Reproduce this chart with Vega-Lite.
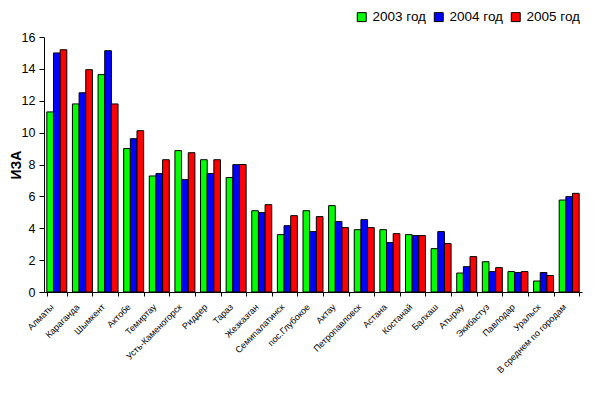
{
  "$schema": "https://vega.github.io/schema/vega-lite/v6.json",
  "width": 538,
  "height": 255,
  "autosize": {"type": "none"},
  "padding": {"left": 44, "top": 37, "right": 14, "bottom": 104},
  "background": "white",
  "config": {"view": {"stroke": null}, "font": "Liberation Sans"},
  "data": {"values": [
    {"city": "Алматы", "year": "2003 год", "v": 11.3},
    {"city": "Алматы", "year": "2004 год", "v": 15.0},
    {"city": "Алматы", "year": "2005 год", "v": 15.2},
    {"city": "Караганда", "year": "2003 год", "v": 11.8},
    {"city": "Караганда", "year": "2004 год", "v": 12.5},
    {"city": "Караганда", "year": "2005 год", "v": 13.95},
    {"city": "Шымкент", "year": "2003 год", "v": 13.64},
    {"city": "Шымкент", "year": "2004 год", "v": 15.14},
    {"city": "Шымкент", "year": "2005 год", "v": 11.8},
    {"city": "Актобе", "year": "2003 год", "v": 9.0},
    {"city": "Актобе", "year": "2004 год", "v": 9.62},
    {"city": "Актобе", "year": "2005 год", "v": 10.12},
    {"city": "Темиртау", "year": "2003 год", "v": 7.28},
    {"city": "Темиртау", "year": "2004 год", "v": 7.43},
    {"city": "Темиртау", "year": "2005 год", "v": 8.3},
    {"city": "Усть-Каменогорск", "year": "2003 год", "v": 8.87},
    {"city": "Усть-Каменогорск", "year": "2004 год", "v": 7.05},
    {"city": "Усть-Каменогорск", "year": "2005 год", "v": 8.74},
    {"city": "Риддер", "year": "2003 год", "v": 8.3},
    {"city": "Риддер", "year": "2004 год", "v": 7.43},
    {"city": "Риддер", "year": "2005 год", "v": 8.3},
    {"city": "Тараз", "year": "2003 год", "v": 7.18},
    {"city": "Тараз", "year": "2004 год", "v": 7.99},
    {"city": "Тараз", "year": "2005 год", "v": 8.0},
    {"city": "Жезказган", "year": "2003 год", "v": 5.1},
    {"city": "Жезказган", "year": "2004 год", "v": 4.98},
    {"city": "Жезказган", "year": "2005 год", "v": 5.48},
    {"city": "Семипалатинск", "year": "2003 год", "v": 3.6},
    {"city": "Семипалатинск", "year": "2004 год", "v": 4.16},
    {"city": "Семипалатинск", "year": "2005 год", "v": 4.79},
    {"city": "пос.Глубокое", "year": "2003 год", "v": 5.1},
    {"city": "пос.Глубокое", "year": "2004 год", "v": 3.79},
    {"city": "пос.Глубокое", "year": "2005 год", "v": 4.73},
    {"city": "Актау", "year": "2003 год", "v": 5.42},
    {"city": "Актау", "year": "2004 год", "v": 4.42},
    {"city": "Актау", "year": "2005 год", "v": 4.04},
    {"city": "Петропавловск", "year": "2003 год", "v": 3.91},
    {"city": "Петропавловск", "year": "2004 год", "v": 4.54},
    {"city": "Петропавловск", "year": "2005 год", "v": 4.04},
    {"city": "Астана", "year": "2003 год", "v": 3.91},
    {"city": "Астана", "year": "2004 год", "v": 3.1},
    {"city": "Астана", "year": "2005 год", "v": 3.66},
    {"city": "Костанай", "year": "2003 год", "v": 3.6},
    {"city": "Костанай", "year": "2004 год", "v": 3.54},
    {"city": "Костанай", "year": "2005 год", "v": 3.54},
    {"city": "Балхаш", "year": "2003 год", "v": 2.72},
    {"city": "Балхаш", "year": "2004 год", "v": 3.79},
    {"city": "Балхаш", "year": "2005 год", "v": 3.04},
    {"city": "Атырау", "year": "2003 год", "v": 1.19},
    {"city": "Атырау", "year": "2004 год", "v": 1.59},
    {"city": "Атырау", "year": "2005 год", "v": 2.22},
    {"city": "Экибастуз", "year": "2003 год", "v": 1.9},
    {"city": "Экибастуз", "year": "2004 год", "v": 1.28},
    {"city": "Экибастуз", "year": "2005 год", "v": 1.53},
    {"city": "Павлодар", "year": "2003 год", "v": 1.28},
    {"city": "Павлодар", "year": "2004 год", "v": 1.22},
    {"city": "Павлодар", "year": "2005 год", "v": 1.28},
    {"city": "Уральск", "year": "2003 год", "v": 0.69},
    {"city": "Уральск", "year": "2004 год", "v": 1.22},
    {"city": "Уральск", "year": "2005 год", "v": 1.03},
    {"city": "В среднем по городам", "year": "2003 год", "v": 5.77},
    {"city": "В среднем по городам", "year": "2004 год", "v": 5.98},
    {"city": "В среднем по городам", "year": "2005 год", "v": 6.19}
  ]},
  "mark": {"type": "bar", "stroke": "black", "strokeWidth": 1},
  "encoding": {
    "x": {
      "field": "city", "type": "nominal", "sort": null,
      "scale": {"paddingInner": 0.22, "paddingOuter": 0.11},
      "axis": {
        "title": null, "labelAngle": -45, "labelAlign": "right", "labelBaseline": "middle",
        "labelFontSize": 9, "labelColor": "black", "labelPadding": 9, "labelOffset": -5,
        "tickBand": "extent", "tickSize": 4, "tickColor": "black",
        "domainColor": "black", "labelOverlap": false
      }
    },
    "xOffset": {"field": "year", "type": "nominal"},
    "y": {
      "field": "v", "type": "quantitative",
      "scale": {"domain": [0, 16], "nice": false},
      "axis": {
        "title": "ИЗА", "titleFontSize": 14, "titleFontWeight": "bold", "titleColor": "black",
        "titleX": -21, "titleBaseline": "bottom",
        "values": [0, 2, 4, 6, 8, 10, 12, 14, 16], "grid": false,
        "labelFontSize": 12.5, "labelColor": "black", "tickColor": "black", "tickSize": 5,
        "domainColor": "black", "labelPadding": 4
      }
    },
    "fill": {
      "field": "year", "type": "nominal",
      "scale": {"domain": ["2003 год", "2004 год", "2005 год"], "range": ["#00FF00", "#0000FF", "#FF0000"]},
      "legend": {
        "title": null, "orient": "none", "direction": "horizontal",
        "legendX": 311, "legendY": -27,
        "symbolType": "square", "symbolSize": 80, "symbolStrokeColor": "black", "symbolStrokeWidth": 1,
        "labelFontSize": 13.5, "labelColor": "black", "columnPadding": 6, "labelOffset": 4
      }
    }
  }
}
